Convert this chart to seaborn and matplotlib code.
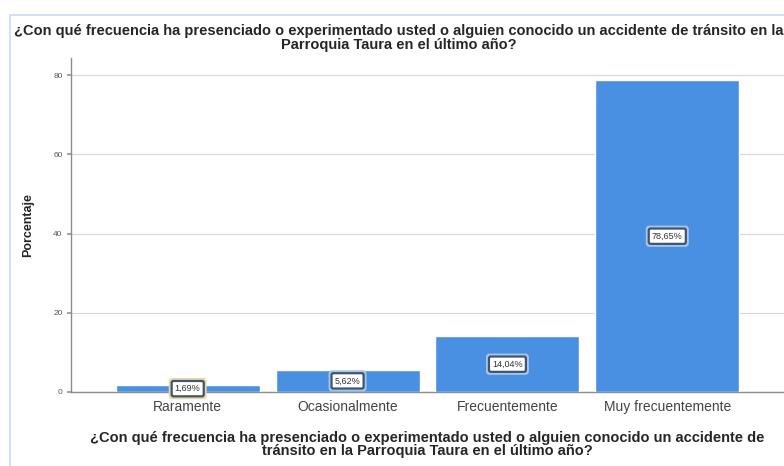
import matplotlib
matplotlib.use("Agg")
import matplotlib.pyplot as plt
import seaborn as sns
import pandas as pd
from matplotlib.patches import Rectangle

categories = ["Raramente", "Ocasionalmente", "Frecuentemente", "Muy frecuentemente"]
values = [1.69, 5.62, 14.04, 78.65]
labels = ["1,69%", "5,62%", "14,04%", "78,65%"]
yticks = [0, 20, 40, 60, 80]
title = ("¿Con qué frecuencia ha presenciado o experimentado usted o alguien conocido un accidente de tránsito en la\n"
         "Parroquia Taura en el último año?")
xlabel = ("¿Con qué frecuencia ha presenciado o experimentado usted o alguien conocido un accidente de\n"
          "tránsito en la Parroquia Taura en el último año?")
ylabel = "Porcentaje"

sns.set_theme(style="white")
plt.rcParams["font.family"] = ["Liberation Sans", "DejaVu Sans"]

df = pd.DataFrame({"cat": categories, "val": values})

fig = plt.figure(figsize=(7.84, 4.66), dpi=100)
ax = fig.add_axes([71/784, 74/466, 1 - 71/784, (392-58)/466])

# outer light-blue frame
fig.patches.append(Rectangle((10/784, -0.1), 1.2, (466-15)/466 + 0.1, transform=fig.transFigure,
                             facecolor="none", edgecolor="#c9dcef", lw=1.2, zorder=0))

sns.barplot(data=df, x="cat", y="val", color="#4A90E2", saturation=1, width=0.9, ax=ax, zorder=3)

ax.set_xlim(-0.73, 3.73)
ax.set_ylim(0, 84.3)
ax.set_yticks(yticks)
ax.set_yticklabels([str(t) for t in yticks], fontsize=6, color="#555555")
ax.yaxis.grid(True, color="#d9d9d9", lw=0.9, zorder=0)
ax.set_axisbelow(True)
ax.tick_params(axis="y", length=3, color="#999999", pad=3, left=True)
ax.tick_params(axis="x", length=0, pad=6, labelsize=10, labelcolor="#444444")

for s in ["top", "right"]:
    ax.spines[s].set_visible(False)
for s in ["left", "bottom"]:
    ax.spines[s].set_color("#8c8c8c")
    ax.spines[s].set_linewidth(1.0)

ax.set_ylabel(ylabel, fontsize=9, fontweight="bold", labelpad=14)
ax.set_xlabel(xlabel, fontsize=10.5, fontweight="bold", labelpad=12, linespacing=0.95)

fig.text(399/784, 1 - 38/466, title, ha="center", va="center", fontsize=10.5,
         fontweight="bold", linespacing=0.95)

for i, (v, lab) in enumerate(zip(values, labels)):
    edge = "#e8d9a0" if i == 0 else "#a9c6e8"
    ax.text(i, v / 2, lab, ha="center", va="center", fontsize=6.5, color="#333333", zorder=6,
            bbox=dict(boxstyle="round,pad=0.35,rounding_size=0.2", facecolor="white",
                      edgecolor="#3f5670", lw=1.6))
    ax.text(i, v / 2, lab, ha="center", va="center", fontsize=6.5, color="none", zorder=5,
            bbox=dict(boxstyle="round,pad=0.6,rounding_size=0.3", facecolor=edge,
                      edgecolor=edge, lw=1.0))

fig.savefig("out.png", dpi=100)
